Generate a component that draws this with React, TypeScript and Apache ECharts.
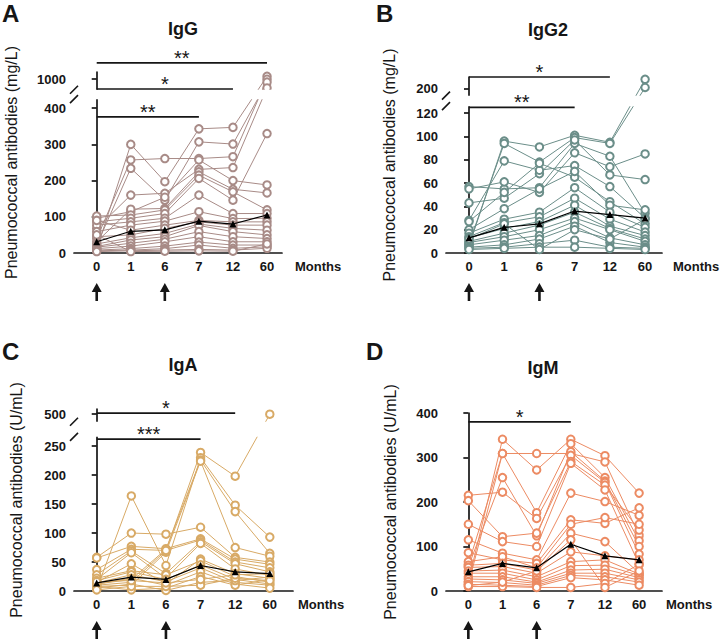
import React, { useEffect, useRef } from 'react';
import * as echarts from 'echarts';

const MONTHS = ['0', '1', '6', '7', '12', '60'];

// IgG (mg/L), one row per subject, at months 0, 1, 6, 7, 12, 60
const IGG_SUBJECTS: number[][] = [
  [10, 300, 197, 343, 347, 1040],
  [40, 257, 261, 261, 266, 1000],
  [22, 234, 146, 307, 301, 960],
  [68, 160, 165, 231, 236, 880],
  [96, 114, 154, 257, 200, 188],
  [31, 121, 123, 224, 176, 166],
  [102, 105, 119, 215, 169, 119],
  [86, 96, 109, 206, 146, 330],
  [77, 86, 96, 160, 109, 109],
  [59, 77, 88, 114, 95, 96],
  [90, 63, 77, 90, 86, 86],
  [45, 50, 68, 86, 77, 77],
  [25, 42, 54, 80, 68, 63],
  [18, 36, 45, 76, 59, 50],
  [16, 27, 38, 59, 45, 40],
  [12, 19, 31, 45, 31, 31],
  [8, 12, 19, 30, 22, 22],
  [6, 8, 12, 22, 13, 17],
  [4, 6, 8, 10, 8, 13],
  [50, 4, 5, 6, 5, 25],
];
const IGG_MEAN = [31, 60, 64, 88, 80, 105];
const IGG_TICKS = [0, 100, 200, 300, 400, 1000];

// IgG2 (mg/L)
const IGG2_SUBJECTS: number[][] = [
  [6, 96, 91, 101, 95, 208],
  [8, 94, 78, 99, 94, 201],
  [57, 55, 56, 94, 83, 34],
  [55, 61, 52, 86, 74, 85],
  [43, 47, 68, 97, 67, 63],
  [28, 79, 71, 75, 57, 30],
  [27, 52, 77, 65, 44, 25],
  [20, 38, 55, 70, 41, 37],
  [17, 29, 35, 56, 35, 22],
  [14, 26, 31, 47, 29, 18],
  [13, 21, 27, 41, 23, 15],
  [10, 17, 24, 35, 21, 12],
  [9, 14, 20, 30, 20, 10],
  [7, 11, 15, 27, 13, 7],
  [5, 7, 12, 23, 9, 5],
  [4, 5, 8, 11, 5, 4],
  [3, 4, 5, 5, 4, 3],
  [12, 25, 3, 20, 12, 29],
];
const IGG2_MEAN = [13, 22, 25, 36, 33, 30];
const IGG2_TICKS = [0, 20, 40, 60, 80, 100, 120, 200];

// IgA (U/mL)
const IGA_SUBJECTS: number[][] = [
  [10, 15, 70, 239, 198, 500],
  [3, 164, 44, 230, 148, 93],
  [12, 20, 72, 226, 137, 65],
  [8, 10, 67, 224, 75, 60],
  [58, 100, 98, 110, 58, 50],
  [57, 77, 73, 90, 55, 46],
  [37, 72, 70, 88, 50, 40],
  [28, 69, 30, 85, 47, 33],
  [20, 66, 22, 82, 38, 27],
  [15, 47, 12, 55, 30, 22],
  [22, 35, 28, 52, 25, 15],
  [18, 33, 20, 45, 20, 12],
  [14, 28, 16, 40, 15, 10],
  [12, 22, 10, 33, 12, 5],
  [8, 2, 5, 25, 10, 20],
  [5, 12, 1, 15, 18, 24],
  [2, 8, 8, 10, 22, 18],
  [16, 18, 14, 20, 28, 30],
];
const IGA_MEAN = [14, 24, 20, 44, 33, 30];
const IGA_TICKS = [0, 50, 100, 150, 200, 250, 500];

// IgM (U/mL)
const IGM_SUBJECTS: number[][] = [
  [20, 341, 272, 341, 304, 220],
  [15, 309, 309, 309, 290, 125],
  [60, 309, 176, 331, 255, 113],
  [55, 255, 124, 313, 247, 100],
  [215, 222, 163, 305, 244, 83],
  [203, 122, 130, 291, 238, 137],
  [150, 111, 100, 287, 227, 60],
  [115, 85, 70, 220, 201, 170],
  [86, 70, 62, 160, 152, 187],
  [66, 77, 52, 150, 165, 150],
  [58, 62, 47, 130, 111, 40],
  [53, 55, 40, 88, 79, 70],
  [45, 47, 32, 66, 70, 38],
  [40, 40, 25, 57, 58, 35],
  [32, 32, 20, 47, 49, 30],
  [27, 25, 17, 40, 40, 25],
  [21, 19, 13, 35, 32, 20],
  [15, 13, 10, 30, 25, 13],
  [10, 10, 8, 8, 17, 60],
  [12, 20, 45, 115, 8, 45],
];
const IGM_MEAN = [43, 62, 52, 105, 79, 70];
const IGM_TICKS = [0, 100, 200, 300, 400];

// Significance brackets: from / to are month indices
const IGG_SIG = [
  { from: 0, to: 5, label: '**' },
  { from: 0, to: 4, label: '*' },
  { from: 0, to: 3, label: '**' },
];
const IGG2_SIG = [
  { from: 0, to: 4, label: '*' },
  { from: 0, to: 3, label: '**' },
];
const IGA_SIG = [
  { from: 0, to: 4, label: '*' },
  { from: 0, to: 3, label: '***' },
];
const IGM_SIG = [{ from: 0, to: 3, label: '*' }];

// Vaccination time points (month indices)
const DOSES = [0, 2];

const FONT = '"Liberation Sans", Arial, Helvetica, sans-serif';
const INK = '#161616';

type Scale = { lowMax: number; upperRef: number; upperAt: number; upperK: number } | null;

interface Panel {
  letter: string;
  title: string;
  unit: string;
  color: string;
  subjects: number[][];
  mean: number[];
  ticks: number[];
  sigs: { from: number; to: number; label: string }[];
  sigY: number[];
  grid: { left: number; top: number; width: number; height: number };
  xMin: number;
  xMax: number;
  yMax: number;
  scale: Scale;
  band: [number, number] | null;
  nameGap: number;
  monthsGap: number;
  letterPos: [number, number];
  titlePos: [number, number];
}

const PANELS: Panel[] = [
  {
    letter: 'A', title: 'IgG', unit: '(mg/L)', color: '#a88b87',
    subjects: IGG_SUBJECTS, mean: IGG_MEAN, ticks: IGG_TICKS, sigs: IGG_SIG, sigY: [525, 453, 376],
    grid: { left: 74, top: 72, width: 208, height: 181 }, xMin: -0.667, xMax: 5.44, yMax: 500,
    scale: { lowMax: 400, upperRef: 1000, upperAt: 480, upperK: 0.2 }, band: [425, 451],
    nameGap: 55, monthsGap: 13, letterPos: [2, 1], titlePos: [183, 29],
  },
  {
    letter: 'B', title: 'IgG2', unit: '(mg/L)', color: '#6b8e89',
    subjects: IGG2_SUBJECTS, mean: IGG2_MEAN, ticks: IGG2_TICKS, sigs: IGG2_SIG, sigY: [151, 125],
    grid: { left: 446, top: 77, width: 216, height: 176 }, xMin: -0.653, xMax: 5.48, yMax: 151,
    scale: { lowMax: 120, upperRef: 200, upperAt: 141, upperK: 1 }, band: [126, 135],
    nameGap: 49, monthsGap: 11, letterPos: [376, 1], titlePos: [548, 30],
  },
  {
    letter: 'C', title: 'IgA', unit: '(U/mL)', color: '#d8aa66',
    subjects: IGA_SUBJECTS, mean: IGA_MEAN, ticks: IGA_TICKS, sigs: IGA_SIG, sigY: [307, 262],
    grid: { left: 74, top: 409, width: 219, height: 182 }, xMin: -0.656, xMax: 5.67, yMax: 314,
    scale: { lowMax: 250, upperRef: 500, upperAt: 305, upperK: 0.2 }, band: [266, 292],
    nameGap: 50, monthsGap: 5, letterPos: [2, 339], titlePos: [183, 365],
  },
  {
    letter: 'D', title: 'IgM', unit: '(U/mL)', color: '#ec8b63',
    subjects: IGM_SUBJECTS, mean: IGM_MEAN, ticks: IGM_TICKS, sigs: IGM_SIG, sigY: [380],
    grid: { left: 446, top: 413, width: 216, height: 178 }, xMin: -0.654, xMax: 5.67, yMax: 400,
    scale: null, band: null,
    nameGap: 48, monthsGap: 4, letterPos: [366, 339], titlePos: [543, 368],
  },
];

// Broken-axis mapping: values above lowMax are compressed into the upper segment
function toDisplay(scale: Scale, v: number): number {
  if (!scale || v <= scale.lowMax) return v;
  return scale.upperAt + (v - scale.upperRef) * scale.upperK;
}

function buildOption() {
  const grid: any[] = [];
  const xAxis: any[] = [];
  const yAxis: any[] = [];
  const series: any[] = [];

  PANELS.forEach((p, i) => {
    grid.push({ ...p.grid, containLabel: false });
    const tickDisp = p.ticks.map((t) => toDisplay(p.scale, t));
    xAxis.push({
      type: 'value', gridIndex: i, min: p.xMin, max: p.xMax,
      axisLine: { show: true, lineStyle: { color: INK, width: 1.7 } },
      axisTick: { show: false },
      splitLine: { show: false },
      axisLabel: {
        customValues: [0, 1, 2, 3, 4, 5],
        formatter: (v: number) => MONTHS[Math.round(v)] ?? '',
        margin: 7, color: INK, fontFamily: FONT, fontWeight: 'bold', fontSize: 13,
      },
      name: 'Months', nameLocation: 'end', nameGap: p.monthsGap,
      nameTextStyle: {
        color: INK, fontFamily: FONT, fontWeight: 'bold', fontSize: 13,
        verticalAlign: 'top', padding: [7, 0, 0, 0],
      },
    });
    yAxis.push({
      type: 'value', gridIndex: i, min: 0, max: p.yMax,
      axisLine: { show: true, lineStyle: { color: INK, width: 1.7 } },
      axisTick: { show: true, length: 5, lineStyle: { color: INK, width: 1.7 }, customValues: tickDisp },
      splitLine: { show: false },
      axisLabel: {
        customValues: tickDisp,
        formatter: (v: number) => {
          const k = tickDisp.findIndex((d) => Math.abs(d - v) < 0.01);
          return k >= 0 ? String(p.ticks[k]) : '';
        },
        margin: 8, color: INK, fontFamily: FONT, fontWeight: 'bold', fontSize: 13,
      },
      name: 'Pneumococcal antibodies ' + p.unit,
      nameLocation: 'middle', nameRotate: 90, nameGap: p.nameGap,
      nameTextStyle: { color: INK, fontFamily: FONT, fontSize: 16 },
    });

    p.subjects.forEach((row, s) => {
      series.push({
        type: 'line', name: p.title + '-' + (s + 1), xAxisIndex: i, yAxisIndex: i,
        data: row.map((v, k) => [k, toDisplay(p.scale, v)]),
        symbol: 'emptyCircle', symbolSize: 7.5, silent: true, z: 2,
        lineStyle: { color: p.color, width: 1 },
        itemStyle: { color: p.color, borderColor: p.color, borderWidth: 1 },
      });
    });
    series.push({
      type: 'line', name: p.title + ' mean', xAxisIndex: i, yAxisIndex: i,
      data: p.mean.map((v, k) => [k, toDisplay(p.scale, v)]),
      symbol: 'triangle', symbolSize: 7, silent: true, z: 5,
      lineStyle: { color: '#000', width: 1.2 },
      itemStyle: { color: '#000' },
    });
  });

  return { animation: false, backgroundColor: '#fff', grid, xAxis, yAxis, series };
}

function buildGraphics(chart: echarts.ECharts) {
  const els: any[] = [];
  PANELS.forEach((p, i) => {
    const px = (x: number, d: number) =>
      chart.convertToPixel({ xAxisIndex: i, yAxisIndex: i }, [x, d]) as number[];
    const left = p.grid.left;
    const right = p.grid.left + p.grid.width;
    const bottom = p.grid.top + p.grid.height;

    // axis break: hide the band, then draw the two slashes
    if (p.band) {
      const yb = px(0, p.band[0])[1];
      const yt = px(0, p.band[1])[1];
      els.push({
        type: 'rect', z: 100, silent: true,
        shape: { x: left - 7, y: yt, width: right - left + 10, height: yb - yt },
        style: { fill: '#fff' },
      });
      [yt, yb].forEach((y) => {
        els.push({
          type: 'line', z: 110, silent: true,
          shape: { x1: left - 4, y1: y + 4, x2: left + 4, y2: y - 4 },
          style: { stroke: INK, lineWidth: 1.6 },
        });
      });
    }

    // significance brackets
    p.sigs.forEach((sg, k) => {
      const a = px(sg.from, p.sigY[k]);
      const b = px(sg.to, p.sigY[k]);
      els.push({
        type: 'line', z: 110, silent: true,
        shape: { x1: a[0], y1: a[1], x2: b[0], y2: b[1] },
        style: { stroke: INK, lineWidth: 1.7 },
      });
      els.push({
        type: 'text', z: 110, silent: true,
        x: (a[0] + b[0]) / 2, y: a[1] - 5,
        style: { text: sg.label, font: '20px ' + FONT, fill: INK, align: 'center', verticalAlign: 'middle' },
      });
    });

    // dose arrows under the month labels
    DOSES.forEach((m) => {
      const x = px(m, 0)[0];
      const top = bottom + 30;
      const end = bottom + 48;
      els.push({
        type: 'polygon', z: 110, silent: true,
        shape: {
          points: [
            [x, top], [x - 5, top + 9], [x - 1.3, top + 9], [x - 1.3, end],
            [x + 1.3, end], [x + 1.3, top + 9], [x + 5, top + 9],
          ],
        },
        style: { fill: INK },
      });
    });

    els.push({
      type: 'text', z: 110, silent: true, x: p.titlePos[0], y: p.titlePos[1],
      style: { text: p.title, font: 'bold 18px ' + FONT, fill: INK, align: 'center', verticalAlign: 'middle' },
    });
    els.push({
      type: 'text', z: 110, silent: true, x: p.letterPos[0], y: p.letterPos[1],
      style: { text: p.letter, font: 'bold 24px ' + FONT, fill: INK, align: 'left', verticalAlign: 'top' },
    });
  });
  return els;
}

export default function App() {
  const ref = useRef<HTMLDivElement>(null);
  useEffect(() => {
    document.body.style.margin = '0';
    if (!ref.current) return;
    const chart = echarts.init(ref.current, null, { renderer: 'svg' });
    chart.setOption(buildOption());
    chart.setOption({ graphic: buildGraphics(chart) });
    return () => chart.dispose();
  }, []);
  return <div ref={ref} style={{ width: 721, height: 639 }} />;
}
